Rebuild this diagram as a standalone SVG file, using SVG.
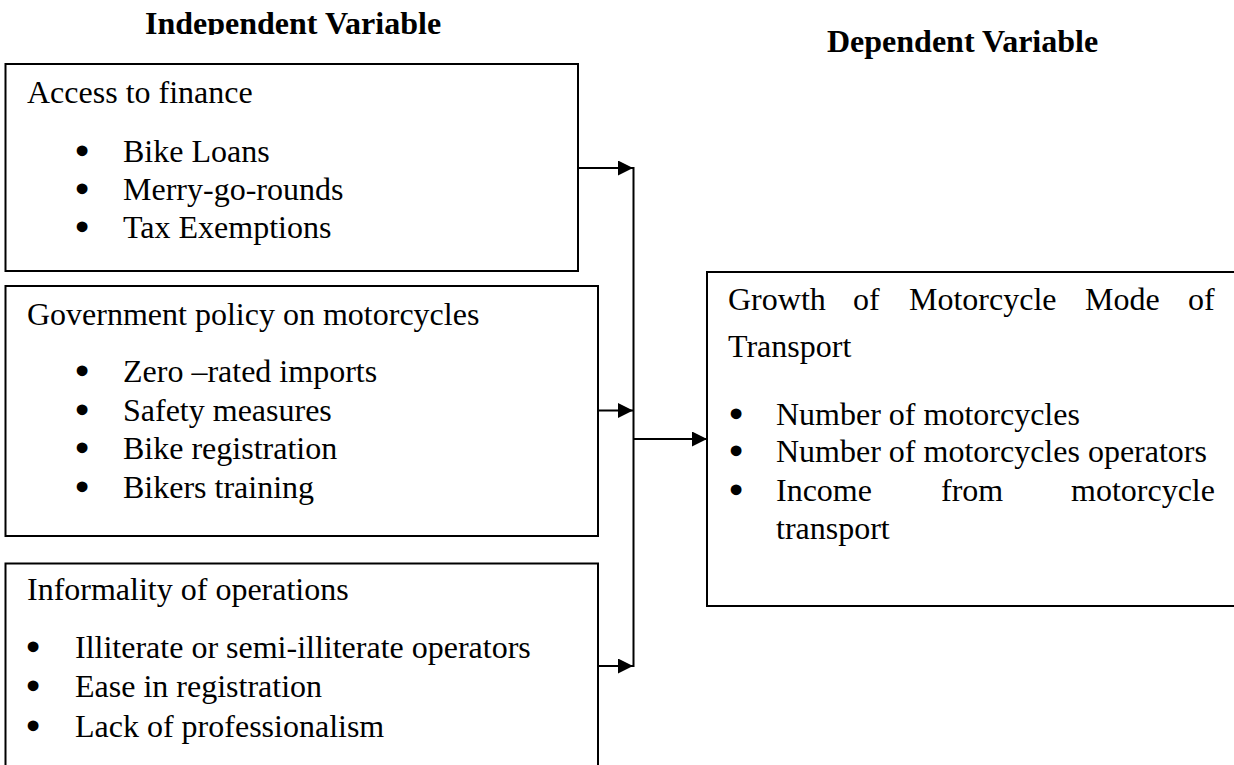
<svg xmlns="http://www.w3.org/2000/svg" width="1234" height="765" viewBox="0 0 1234 765">
<style>
  .t { font-family: "Liberation Serif", "Times New Roman", serif; font-size: 32px; fill: #000; }
  .b { font-family: "Liberation Serif", "Times New Roman", serif; font-size: 32px; fill: #000; stroke: #000; stroke-width: 3.2; text-anchor: middle; }
  .h { font-family: "Liberation Serif", "Times New Roman", serif; font-size: 32px; font-weight: bold; fill: #000; }
  .box { fill: #fff; stroke: #000; stroke-width: 2; }
  .con { fill: none; stroke: #000; stroke-width: 2; }
</style>
<defs>
  <marker id="arr" markerUnits="userSpaceOnUse" markerWidth="16" markerHeight="16" refX="15" refY="7.5" orient="auto">
    <path d="M0,0 L15,7.5 L0,15 Z" fill="#000"/>
  </marker>
  <clipPath id="clipTop"><rect x="0" y="0" width="1234" height="35"/></clipPath>
</defs>
<rect width="1234" height="765" fill="#fff"/>

<g id="titles">
  <text class="h" x="145" y="33.5" clip-path="url(#clipTop)">Independent Variable</text>
  <text class="h" x="827" y="52">Dependent Variable</text>
</g>

<g id="node-finance">
  <rect class="box" x="5.5" y="64" width="572.5" height="207"/>
  <text class="t" x="27" y="103">Access to finance</text>
  <text class="b" x="82" y="162">•</text><text class="t" x="123" y="162">Bike Loans</text>
  <text class="b" x="82" y="200">•</text><text class="t" x="123" y="200">Merry-go-rounds</text>
  <text class="b" x="82" y="238">•</text><text class="t" x="123" y="238">Tax Exemptions</text>
</g>

<g id="node-policy">
  <rect class="box" x="5.5" y="286" width="592.5" height="250"/>
  <text class="t" x="27" y="325">Government policy on motorcycles</text>
  <text class="b" x="82" y="382">•</text><text class="t" x="123" y="382">Zero –rated imports</text>
  <text class="b" x="82" y="420.5">•</text><text class="t" x="123" y="420.5">Safety measures</text>
  <text class="b" x="82" y="459">•</text><text class="t" x="123" y="459">Bike registration</text>
  <text class="b" x="82" y="497.5">•</text><text class="t" x="123" y="497.5">Bikers training</text>
</g>

<g id="node-informality">
  <rect class="box" x="5.5" y="563.5" width="592.5" height="230"/>
  <text class="t" x="27" y="600">Informality of operations</text>
  <text class="b" x="33" y="658">•</text><text class="t" x="75" y="658">Illiterate or semi-illiterate operators</text>
  <text class="b" x="33" y="697">•</text><text class="t" x="75" y="697">Ease in registration</text>
  <text class="b" x="33" y="736.5">•</text><text class="t" x="75" y="736.5">Lack of professionalism</text>
</g>

<g id="node-growth">
  <rect class="box" x="707" y="272" width="560" height="334"/>
  <text class="t" y="310"><tspan x="728">Growth</tspan><tspan x="853">of</tspan><tspan x="909">Motorcycle</tspan><tspan x="1085">Mode</tspan><tspan x="1188">of</tspan></text>
  <text class="t" x="728" y="357">Transport</text>
  <text class="b" x="736" y="425">•</text><text class="t" x="776" y="425">Number of motorcycles</text>
  <text class="b" x="736" y="462">•</text><text class="t" x="776" y="462">Number of motorcycles operators</text>
  <text class="b" x="736" y="501">•</text><text class="t" y="501"><tspan x="776">Income</tspan><tspan x="941">from</tspan><tspan x="1071">motorcycle</tspan></text>
  <text class="t" x="776" y="539">transport</text>
</g>

<g id="connectors">
  <line class="con" x1="578" y1="168" x2="633" y2="168" marker-end="url(#arr)"/>
  <line class="con" x1="598" y1="410.5" x2="633" y2="410.5" marker-end="url(#arr)"/>
  <line class="con" x1="598" y1="666" x2="633" y2="666" marker-end="url(#arr)"/>
  <line class="con" x1="633.5" y1="167" x2="633.5" y2="667"/>
  <line class="con" x1="633.5" y1="439" x2="707" y2="439" marker-end="url(#arr)"/>
</g>
</svg>
